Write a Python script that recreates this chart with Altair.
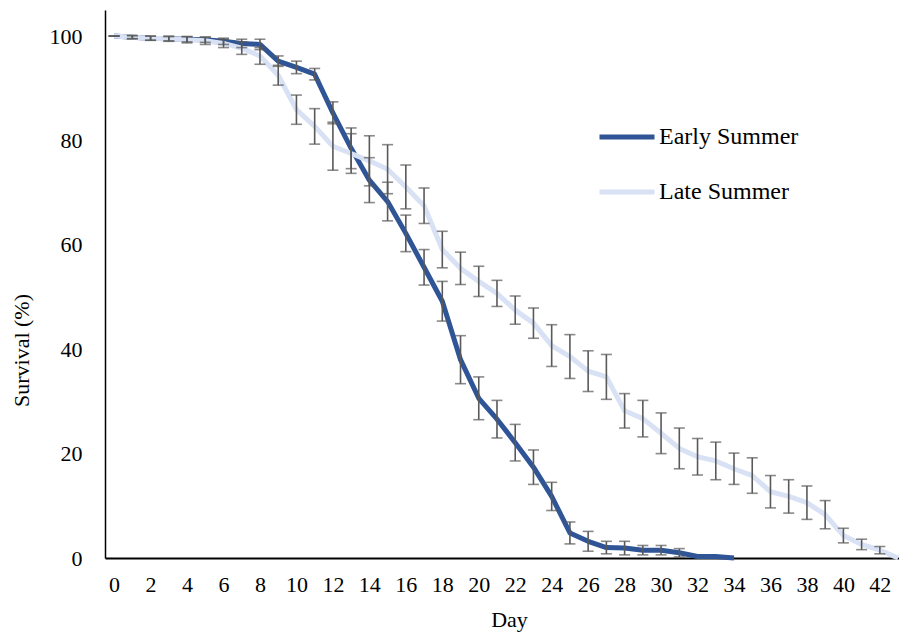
import altair as alt
import pandas as pd

# Survival (%) by day for two cohorts, with standard-error bars
early_days = list(range(0, 35))
early_surv = [100, 99.8, 99.6, 99.5, 99.4, 99.3, 99.0, 98.6, 98.4, 95.2,
              94.0, 92.7, 85.3, 78.5, 72.4, 68.3, 62.2, 55.7, 49.2, 38.0,
              30.6, 26.6, 22.1, 17.4, 11.8, 4.8, 3.2, 2.0, 1.9, 1.5,
              1.5, 1.0, 0.3, 0.3, 0.0]
early_err = [0.0, 0.3, 0.4, 0.4, 0.5, 0.5, 0.6, 0.8, 1.0, 1.0,
             1.2, 1.1, 2.1, 3.9, 4.3, 3.7, 3.5, 3.4, 3.8, 4.6,
             4.1, 3.6, 3.5, 3.3, 2.7, 2.1, 1.9, 1.2, 1.3, 0.9,
             0.9, 0.8]

late_days = list(range(0, 44))
late_surv = [100, 99.8, 99.6, 99.5, 99.3, 99.1, 98.6, 97.7, 96.2, 92.5,
             85.9, 82.7, 78.9, 77.5, 76.1, 74.5, 71.1, 67.5, 59.1, 55.5,
             53.0, 50.7, 47.5, 45.0, 40.7, 38.6, 35.8, 34.7, 28.2, 26.7,
             23.9, 21.0, 19.4, 18.6, 17.1, 15.8, 12.7, 11.8, 10.6, 8.3,
             4.3, 2.6, 1.5, 0.0]
late_err = [0.0, 0.3, 0.4, 0.5, 0.6, 0.7, 0.8, 1.2, 1.6, 1.9,
            2.8, 3.4, 4.6, 3.8, 4.8, 4.7, 4.2, 3.4, 3.5, 3.1,
            2.9, 2.5, 2.7, 2.9, 4.0, 4.2, 3.9, 4.3, 3.3, 3.5,
            3.9, 3.9, 3.5, 3.6, 3.0, 3.4, 3.1, 3.2, 3.2, 2.7,
            1.4, 1.0, 0.7]

series_names = ["Early Summer", "Late Summer"]
series_colors = ["#2F5597", "#D9E2F4"]
x_tick_values = list(range(0, 43, 2))
y_tick_values = [0, 20, 40, 60, 80, 100]

lines = pd.DataFrame(
    {"day": early_days + late_days,
     "survival": early_surv + late_surv,
     "cohort": [series_names[0]] * len(early_days) + [series_names[1]] * len(late_days)}
)

def bar_frame(days, surv, err, name):
    rows = []
    for d, s, e in zip(days, surv, err):
        rows.append({"day": d, "lo": s - e, "hi": s + e, "cohort": name})
    return pd.DataFrame(rows)

bars = pd.concat([
    bar_frame(early_days, early_surv, early_err, series_names[0]),
    bar_frame(late_days, late_surv, late_err, series_names[1]),
], ignore_index=True)

FONT = "Times New Roman, Liberation Serif, serif"

x_scale = alt.Scale(domain=[-0.5, 43.05], nice=False, zero=False)
y_scale = alt.Scale(domain=[0, 105], nice=False)

x_axis = alt.Axis(values=x_tick_values, title="Day", grid=False, ticks=False,
                  domainColor="black", domainWidth=2, labelOverlap=False, labelFlush=False,
                  labelPadding=16, titlePadding=14, titleX=404)
y_axis = alt.Axis(values=y_tick_values, title="Survival (%)", grid=False, ticks=False,
                  domainColor="black", domainWidth=1.5, labelOverlap=False,
                  labelPadding=23, titlePadding=16, titleY=340)

color_enc = alt.Color(
    "cohort:N",
    scale=alt.Scale(domain=series_names, range=series_colors),
    legend=alt.Legend(title=None, orient="none", legendX=492, legendY=97,
                      symbolType="stroke", symbolSize=3025, symbolStrokeWidth=5,
                      labelFont=FONT, labelFontSize=24, labelColor="black",
                      rowPadding=13, labelOffset=2, padding=0),
)

line_layer = alt.Chart(lines).mark_line(strokeWidth=5, strokeJoin="round").encode(
    x=alt.X("day:Q", scale=x_scale, axis=x_axis),
    y=alt.Y("survival:Q", scale=y_scale, axis=y_axis),
    color=color_enc,
    order="day:Q",
)

bar_base = alt.Chart(bars)
err_rule = bar_base.mark_rule(color="#595959", strokeWidth=1.6).encode(
    x=alt.X("day:Q", scale=x_scale, axis=x_axis),
    y=alt.Y("lo:Q", scale=y_scale, axis=y_axis),
    y2="hi:Q",
)
cap_lo = bar_base.mark_tick(color="#595959", thickness=1.6, size=11, orient="horizontal").encode(
    x=alt.X("day:Q", scale=x_scale, axis=x_axis),
    y=alt.Y("lo:Q", scale=y_scale, axis=y_axis),
)
cap_hi = bar_base.mark_tick(color="#595959", thickness=1.6, size=11, orient="horizontal").encode(
    x=alt.X("day:Q", scale=x_scale, axis=x_axis),
    y=alt.Y("hi:Q", scale=y_scale, axis=y_axis),
)

chart = alt.layer(line_layer, err_rule, cap_lo, cap_hi).properties(
    width=794, height=548,
    autosize=alt.AutoSizeParams(type="none"),
    padding={"left": 105, "top": 10, "right": 0, "bottom": 84},
    background="white",
).configure_view(
    stroke=None
).configure_axis(
    labelFont=FONT, labelFontSize=22, labelColor="black", labelOverlap=False,
    titleFont=FONT, titleFontSize=22, titleFontWeight="normal", titleColor="black",
)

chart.save("out.html", embed_options={"renderer": "svg", "actions": False})
